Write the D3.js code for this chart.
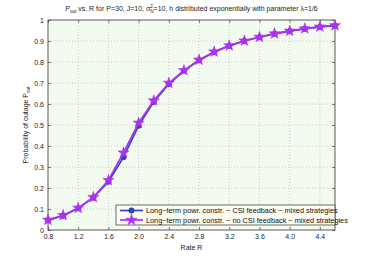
<!DOCTYPE html>
<html><head><meta charset="utf-8">
<script src="https://cdn.jsdelivr.net/npm/d3@7"></script>
<style>body{margin:0;background:#fff}svg{display:block}text{font-family:"Liberation Sans",Arial,sans-serif}</style>
</head><body><svg id="c" width="371" height="260"></svg>
<script>
const rates = [0.8,1.0,1.2,1.4,1.6,1.8,2.0,2.2,2.4,2.6,2.8,3.0,3.2,3.4,3.6,3.8,4.0,4.2,4.4,4.6];
const csiFeedback = [0.046,0.068,0.103,0.154,0.230,0.347,0.497,0.610,0.695,0.758,0.808,0.847,0.877,0.900,0.918,0.934,0.947,0.958,0.967,0.973];
const noCsiFeedback = [0.048,0.070,0.105,0.156,0.237,0.368,0.510,0.616,0.700,0.760,0.810,0.849,0.878,0.901,0.919,0.935,0.948,0.959,0.968,0.974];
const xTicks = [0.8,1.2,1.6,2.0,2.4,2.8,3.2,3.6,4.0,4.4];
const yTicks = [0,0.1,0.2,0.3,0.4,0.5,0.6,0.7,0.8,0.9,1];
const seriesNames = ["Long\u2212term powr. constr. \u2212 CSI feedback \u2212 mixed strategies",
                     "Long\u2212term powr. constr. \u2212 no CSI feedback \u2212 mixed strategies"];

const svg = d3.select("#c");
const L=48,R=335,T=20,B=230;
const x = d3.scaleLinear().domain([0.8,4.6]).range([L,R]);
const y = d3.scaleLinear().domain([0,1]).range([B,T]);
const fs = 7;

svg.append("rect").attr("x",L).attr("y",T).attr("width",R-L).attr("height",B-T).attr("fill","#f3fbf1");

// grid
svg.append("g").selectAll("line").data(xTicks.slice(1)).join("line")
  .attr("x1",d=>x(d)).attr("x2",d=>x(d)).attr("y1",T).attr("y2",B)
  .attr("stroke","#b8b8b8").attr("stroke-width",0.7).attr("stroke-dasharray","1,2");
svg.append("g").selectAll("line").data(yTicks.slice(1,-1)).join("line")
  .attr("x1",L).attr("x2",R).attr("y1",d=>y(d)).attr("y2",d=>y(d))
  .attr("stroke","#b8b8b8").attr("stroke-width",0.7).attr("stroke-dasharray","1,2");

// axes
const fmtY = d => d===0?"0":d===1?"1":d3.format(".1f")(d);
svg.append("g").attr("transform",`translate(0,${B})`)
  .call(d3.axisBottom(x).tickValues(xTicks).tickFormat(d3.format(".1f")).tickSizeInner(-3).tickSizeOuter(0).tickPadding(4));
svg.append("g").attr("transform",`translate(${L},0)`)
  .call(d3.axisLeft(y).tickValues(yTicks).tickFormat(fmtY).tickSizeInner(-3).tickSizeOuter(0).tickPadding(4));
svg.append("g").attr("transform",`translate(0,${T})`)
  .call(d3.axisTop(x).tickValues(xTicks).tickFormat("").tickSizeInner(-3).tickSizeOuter(0));
svg.append("g").attr("transform",`translate(${R},0)`)
  .call(d3.axisRight(y).tickValues(yTicks).tickFormat("").tickSizeInner(-3).tickSizeOuter(0));
svg.selectAll(".domain").remove();
svg.selectAll(".tick line").attr("stroke","#333").attr("stroke-width",0.6);
svg.selectAll(".tick text").attr("font-size",fs).attr("fill","#222").attr("font-family","Liberation Sans, Arial, sans-serif");
svg.append("rect").attr("x",L).attr("y",T).attr("width",R-L).attr("height",B-T)
  .attr("fill","none").attr("stroke","#333").attr("stroke-width",0.8);

// lines
const line = d3.line().x((d,i)=>x(rates[i])).y(d=>y(d));
const blue="#2c48c8", mag="#b030f0";
svg.append("path").datum(csiFeedback).attr("d",line).attr("fill","none").attr("stroke",blue).attr("stroke-width",1.7);
svg.append("g").selectAll("circle").data(csiFeedback).join("circle")
  .attr("cx",(d,i)=>x(rates[i])).attr("cy",d=>y(d)).attr("r",2.7)
  .attr("fill","#2c48c8").attr("stroke","#1a2a90").attr("stroke-width",0.6);
svg.append("path").datum(noCsiFeedback).attr("d",line).attr("fill","none").attr("stroke",mag).attr("stroke-width",1.7);
const star = d3.symbol().type(d3.symbolStar).size(38);
svg.append("g").selectAll("path").data(noCsiFeedback).join("path")
  .attr("transform",(d,i)=>`translate(${x(rates[i])},${y(d)})`).attr("d",star)
  .attr("fill",mag).attr("stroke",mag).attr("stroke-width",0.6);

// legend
const lg = svg.append("g");
const lx=116, ly=205, lw=219, lh=20;
lg.append("rect").attr("x",lx).attr("y",ly).attr("width",lw).attr("height",lh)
  .attr("fill","#fdfaf2").attr("stroke","#333").attr("stroke-width",0.7);
[0,1].forEach(k=>{
  const yy = ly+5.5+k*9.5;
  const c = k===0?blue:mag;
  lg.append("line").attr("x1",lx+4).attr("x2",lx+27).attr("y1",yy).attr("y2",yy).attr("stroke",c).attr("stroke-width",1.7);
  if(k===0) lg.append("circle").attr("cx",lx+15.5).attr("cy",yy).attr("r",2.7).attr("fill",blue).attr("stroke","#1a2a90").attr("stroke-width",0.6);
  else lg.append("path").attr("transform",`translate(${lx+15.5},${yy})`).attr("d",star).attr("fill",mag).attr("stroke",mag).attr("stroke-width",0.6);
  lg.append("text").attr("x",lx+30).attr("y",yy+2.5).attr("font-size",7.3).attr("fill","#111").text(seriesNames[k]);
});

// title
const t = svg.append("text").attr("x",(L+R)/2).attr("y",11).attr("text-anchor","middle").attr("font-size",fs).attr("fill","#222");
t.append("tspan").text("P");
t.append("tspan").attr("font-size",4.6).attr("dy",1.8).text("out");
t.append("tspan").attr("dy",-1.8).text(" vs. R for P=30, J=10, \u03C3");
t.append("tspan").attr("font-size",4.6).attr("dy",-3).text("2");
t.append("tspan").attr("font-size",4.6).attr("dx",-2.6).attr("dy",5.2).text("N");
t.append("tspan").attr("dy",-2.2).text("=10, h distributed exponentially with parameter \u03BB=1/6");

// x label
svg.append("text").attr("x",(L+R)/2).attr("y",250).attr("text-anchor","middle").attr("font-size",fs).attr("fill","#222").text("Rate R");
// y label
const yl = svg.append("text").attr("transform",`translate(28,${(T+B)/2}) rotate(-90)`).attr("text-anchor","middle").attr("font-size",fs).attr("fill","#222");
yl.append("tspan").text("Probability of outage P");
yl.append("tspan").attr("font-size",4.6).attr("dy",1.8).text("out");
</script></body></html>
